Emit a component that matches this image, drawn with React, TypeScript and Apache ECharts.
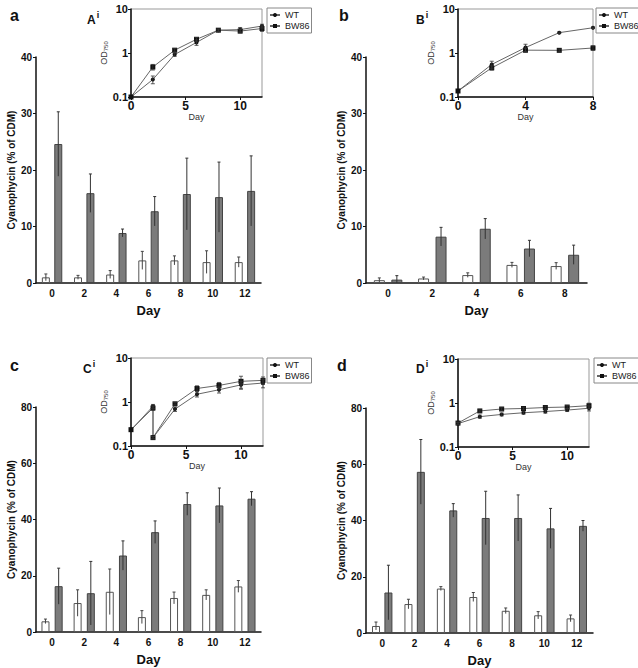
import React, { useEffect, useRef } from "react";
import * as echarts from "echarts";

const FONT = "'Liberation Sans', Arial, Helvetica, sans-serif";

// ---------- Bar data ----------
const daysA = ["0", "2", "4", "6", "8", "10", "12"];
const wtA = [1.0, 1.0, 1.5, 4.0, 4.0, 3.7, 3.7];
const wtAErr = [0.6, 0.35, 0.7, 1.6, 0.8, 2.0, 0.9];
const bwA = [24.6, 15.9, 8.85, 12.7, 15.75, 15.2, 16.3];
const bwAErr = [5.7, 3.4, 0.7, 2.6, 6.35, 6.2, 6.2];

const daysB = ["0", "2", "4", "6", "8"];
const wtB = [0.5, 0.8, 1.4, 3.2, 3.0];
const wtBErr = [0.4, 0.25, 0.4, 0.45, 0.6];
const bwB = [0.6, 8.2, 9.6, 6.1, 5.0];
const bwBErr = [0.7, 1.65, 1.8, 1.45, 1.7];

const daysC = ["0", "2", "4", "6", "8", "10", "12"];
const wtC = [3.8, 10.3, 14.3, 5.3, 12.1, 13.2, 16.2];
const wtCErr = [0.8, 4.7, 8.1, 2.3, 2.1, 1.8, 2.1];
const bwC = [16.3, 13.8, 27.2, 35.5, 45.5, 45.0, 47.4];
const bwCErr = [6.4, 11.3, 5.2, 4.0, 4.0, 6.2, 2.5];

const daysD = ["0", "2", "4", "6", "8", "10", "12"];
const wtD = [2.5, 10.3, 15.8, 12.8, 7.9, 6.3, 5.2];
const wtDErr = [1.4, 1.7, 0.7, 1.6, 1.0, 1.3, 1.2];
const bwD = [14.4, 57.3, 43.6, 40.9, 40.9, 37.2, 38.1];
const bwDErr = [9.7, 11.5, 2.4, 9.5, 8.2, 7.1, 1.9];

// ---------- Inset (OD750) data ----------
const odDaysA = [0, 2, 4, 6, 8, 10, 12];
const odWtA = [0.1, 0.25, 0.92, 1.74, 3.3, 3.4, 4.1];
const odWtAErr = [0, 0.05, 0.08, 0.25, 0.2, 0.4, 0.4];
const odBwA = [0.1, 0.48, 1.16, 2.05, 3.3, 3.15, 3.6];
const odBwAErr = [0, 0.07, 0.1, 0.2, 0.2, 0.3, 0.5];

const odDaysB = [0, 2, 4, 6, 8];
const odWtB = [0.137, 0.55, 1.33, 2.9, 3.75];
const odWtBErr = [0, 0.1, 0.25, 0.1, 0.15];
const odBwB = [0.137, 0.46, 1.16, 1.15, 1.3];
const odBwBErr = [0, 0.05, 0.12, 0.08, 0.15];

const odDaysC = [0, 2, 2, 4, 6, 8, 10, 12];
const odWtC = [0.23, 0.8, 0.155, 0.69, 1.5, 1.9, 2.45, 2.7];
const odWtCErr = [0, 0.08, 0.01, 0.08, 0.2, 0.3, 0.5, 0.6];
const odBwC = [0.235, 0.73, 0.155, 0.91, 2.03, 2.38, 2.95, 3.1];
const odBwCErr = [0, 0.08, 0.01, 0.06, 0.3, 0.4, 0.9, 0.6];

const odDaysD = [0, 2, 4, 6, 8, 10, 12];
const odWtD = [0.34, 0.49, 0.55, 0.6, 0.64, 0.69, 0.76];
const odWtDErr = [0.02, 0.04, 0.04, 0.04, 0.05, 0.05, 0.1];
const odBwD = [0.35, 0.66, 0.73, 0.75, 0.79, 0.81, 0.87];
const odBwDErr = [0.02, 0.04, 0.05, 0.05, 0.06, 0.06, 0.12];

// ---------- Layout (styles / positions) ----------
const panels = [
  {
    letter: "a", sup: "A",
    letterPos: [5, 2], supPos: [82, 5],
    barGrid: { left: 36, top: 57, width: 225, height: 226 },
    insGrid: { left: 131, top: 9, width: 131, height: 88 },
    legendPos: [267, 8],
    yMax: 40, yInt: 10, xMax: 12, xInt: 5, barW: 8, gap: 0.55,
    days: daysA, wt: wtA, wtE: wtAErr, bw: bwA, bwE: bwAErr,
    odDays: odDaysA, odWt: odWtA, odWtE: odWtAErr, odBw: odBwA, odBwE: odBwAErr,
  },
  {
    letter: "b", sup: "B",
    letterPos: [334, 2], supPos: [411, 5],
    barGrid: { left: 366, top: 57, width: 221, height: 226 },
    insGrid: { left: 458, top: 9, width: 135, height: 88 },
    legendPos: [596, 8],
    yMax: 40, yInt: 10, xMax: 8, xInt: 4, barW: 11, gap: 0.59,
    days: daysB, wt: wtB, wtE: wtBErr, bw: bwB, bwE: bwBErr,
    odDays: odDaysB, odWt: odWtB, odWtE: odWtBErr, odBw: odBwB, odBwE: odBwBErr,
  },
  {
    letter: "c", sup: "C",
    letterPos: [5, 352], supPos: [78, 354],
    barGrid: { left: 36, top: 407, width: 225, height: 225 },
    insGrid: { left: 131, top: 358, width: 132, height: 88 },
    legendPos: [267, 358],
    yMax: 80, yInt: 20, xMax: 12, xInt: 5, barW: 8, gap: 0.65,
    days: daysC, wt: wtC, wtE: wtCErr, bw: bwC, bwE: bwCErr,
    odDays: odDaysC, odWt: odWtC, odWtE: odWtCErr, odBw: odBwC, odBwE: odBwCErr,
  },
  {
    letter: "d", sup: "D",
    letterPos: [332, 352], supPos: [411, 354],
    barGrid: { left: 366, top: 408, width: 227, height: 225 },
    insGrid: { left: 458, top: 359, width: 131, height: 88 },
    legendPos: [594, 358],
    yMax: 80, yInt: 20, xMax: 12, xInt: 5, barW: 8, gap: 0.55,
    days: daysD, wt: wtD, wtE: wtDErr, bw: bwD, bwE: bwDErr,
    odDays: odDaysD, odWt: odWtD, odWtE: odWtDErr, odBw: odBwD, odBwE: odBwDErr,
  },
];

function barErr(xi: number, yi: number, means: number[], errs: number[], offset: number, color: string) {
  return {
    type: "custom",
    xAxisIndex: xi,
    yAxisIndex: yi,
    z: 5,
    silent: true,
    data: means.map((m, i) => [i, m, errs[i]]),
    encode: { x: 0, y: 1 },
    renderItem: (params: any, api: any) => {
      const i = api.value(0);
      const m = api.value(1);
      const e = api.value(2);
      const top = api.coord([i, m + e]);
      const bot = api.coord([i, Math.max(0, m - e)]);
      const x = top[0] + offset;
      return {
        type: "group",
        children: [
          { type: "line", shape: { x1: x, y1: top[1], x2: x, y2: bot[1] }, style: { stroke: color, lineWidth: 1 } },
          { type: "line", shape: { x1: x - 1.5, y1: top[1], x2: x + 1.5, y2: top[1] }, style: { stroke: color, lineWidth: 1 } },
        ],
      };
    },
  };
}

function odErr(xi: number, yi: number, xs: number[], ys: number[], errs: number[]) {
  return {
    type: "custom",
    xAxisIndex: xi,
    yAxisIndex: yi,
    z: 4,
    silent: true,
    data: xs.map((x, i) => [x, ys[i], errs[i]]),
    encode: { x: 0, y: 1 },
    renderItem: (params: any, api: any) => {
      const x = api.value(0);
      const y = api.value(1);
      const e = api.value(2);
      if (!e) return { type: "group", children: [] };
      const top = api.coord([x, y + e]);
      const bot = api.coord([x, Math.max(0.101, y - e)]);
      const c = "#333";
      return {
        type: "group",
        children: [
          { type: "line", shape: { x1: top[0], y1: top[1], x2: top[0], y2: bot[1] }, style: { stroke: c, lineWidth: 0.8 } },
          { type: "line", shape: { x1: top[0] - 2, y1: top[1], x2: top[0] + 2, y2: top[1] }, style: { stroke: c, lineWidth: 0.8 } },
          { type: "line", shape: { x1: top[0] - 2, y1: bot[1], x2: top[0] + 2, y2: bot[1] }, style: { stroke: c, lineWidth: 0.8 } },
        ],
      };
    },
  };
}

function buildOption() {
  const grid: any[] = [];
  const xAxis: any[] = [];
  const yAxis: any[] = [];
  const lineSeries: any[] = [];
  const otherSeries: any[] = [];
  const legend: any[] = [];
  const title: any[] = [];

  panels.forEach((p) => {
    const bi = grid.length;
    grid.push({ ...p.barGrid });
    const ii = grid.length;
    grid.push({ ...p.insGrid, show: true, borderColor: "#999", borderWidth: 1, backgroundColor: "transparent" });

    // bar axes
    xAxis.push({
      type: "category", gridIndex: bi, data: p.days,
      axisLine: { lineStyle: { color: "#111", width: 1.5 } },
      axisTick: { alignWithLabel: true, length: 3, lineStyle: { color: "#111" } },
      axisLabel: { color: "#111", fontSize: 10, fontWeight: "bold", fontFamily: FONT, margin: 5 },
      name: "Day", nameLocation: "middle", nameGap: 21,
      nameTextStyle: { color: "#111", fontSize: 13, fontWeight: "bold", fontFamily: FONT },
    });
    yAxis.push({
      type: "value", gridIndex: bi, min: 0, max: p.yMax, interval: p.yInt,
      axisLine: { show: true, lineStyle: { color: "#111", width: 1.5 } },
      axisTick: { show: true, length: 3, lineStyle: { color: "#111" } },
      splitLine: { show: false },
      axisLabel: { color: "#111", fontSize: 10, fontWeight: "bold", fontFamily: FONT, margin: 4 },
      name: "Cyanophycin (% of CDM)", nameLocation: "middle", nameGap: 20, nameRotate: 90,
      nameTextStyle: { color: "#111", fontSize: 10, fontWeight: "bold", fontFamily: FONT },
    });
    // inset axes
    xAxis.push({
      type: "value", gridIndex: ii, min: 0, max: p.xMax, interval: p.xInt,
      axisLine: { lineStyle: { color: "#111", width: 1.5 } },
      axisTick: { length: 3, lineStyle: { color: "#111" } },
      splitLine: { show: false },
      axisLabel: { color: "#111", fontSize: 12, fontWeight: "bold", fontFamily: FONT, margin: 3, showMaxLabel: p.xMax % p.xInt === 0 },
      name: "Day", nameLocation: "middle", nameGap: 15,
      nameTextStyle: { color: "#333", fontSize: 9, fontFamily: FONT },
    });
    yAxis.push({
      type: "log", logBase: 10, gridIndex: ii, min: 0.1, max: 10,
      axisLine: { show: true, lineStyle: { color: "#111", width: 1.5 } },
      axisTick: { show: true, length: 3, lineStyle: { color: "#111" } },
      splitLine: { show: false },
      axisLabel: {
        color: "#111", fontSize: 11, fontWeight: "bold", fontFamily: FONT, margin: 3,
        formatter: (v: number) => (v >= 1 ? String(Math.round(v)) : String(Math.round(v * 10) / 10)),
      },
      name: "{t|OD}{s|750}", nameLocation: "middle", nameGap: 20, nameRotate: 90,
      nameTextStyle: {
        color: "#333", fontFamily: FONT,
        rich: {
          t: { fontSize: 9, fontFamily: FONT, color: "#333", lineHeight: 12, verticalAlign: "bottom" },
          s: { fontSize: 6, fontFamily: FONT, color: "#333", lineHeight: 8, verticalAlign: "bottom" },
        },
      },
    });

    const bxi = xAxis.length - 2;
    const byi = yAxis.length - 2;
    const ixi = xAxis.length - 1;
    const iyi = yAxis.length - 1;

    lineSeries.push({
      type: "line", name: "WT", xAxisIndex: ixi, yAxisIndex: iyi,
      data: p.odDays.map((d, i) => [d, p.odWt[i]]),
      symbol: "circle", symbolSize: 4, showAllSymbol: true,
      lineStyle: { color: "#666", width: 1 }, itemStyle: { color: "#111" }, z: 3,
    });
    lineSeries.push({
      type: "line", name: "BW86", xAxisIndex: ixi, yAxisIndex: iyi,
      data: p.odDays.map((d, i) => [d, p.odBw[i]]),
      symbol: "rect", symbolSize: 5, showAllSymbol: true,
      lineStyle: { color: "#666", width: 1 }, itemStyle: { color: "#111" }, z: 3,
    });
    otherSeries.push(odErr(ixi, iyi, p.odDays, p.odWt, p.odWtE));
    otherSeries.push(odErr(ixi, iyi, p.odDays, p.odBw, p.odBwE));

    otherSeries.push({
      type: "bar", name: "WT bars", xAxisIndex: bxi, yAxisIndex: byi, data: p.wt,
      barWidth: p.barW, barGap: `${Math.round(p.gap * 100)}%`,
      itemStyle: { color: "#ffffff", borderColor: "#555", borderWidth: 1 },
    });
    otherSeries.push({
      type: "bar", name: "BW86 bars", xAxisIndex: bxi, yAxisIndex: byi, data: p.bw,
      barWidth: p.barW, barGap: `${Math.round(p.gap * 100)}%`,
      itemStyle: { color: "#7b7b7b", borderColor: "#444", borderWidth: 1 },
    });
    const off = (p.barW * (1 + p.gap)) / 2;
    otherSeries.push(barErr(bxi, byi, p.wt, p.wtE, -off, "#444"));
    otherSeries.push(barErr(bxi, byi, p.bw, p.bwE, off, "#333"));

    legend.push({
      data: ["WT", "BW86"], left: p.legendPos[0], top: p.legendPos[1], orient: "vertical",
      itemWidth: 10, itemHeight: 5, itemGap: 1, itemTextGap: 3, padding: [2, 2, 2, 2],
      borderColor: "#888", borderWidth: 1, selectedMode: false,
      textStyle: { fontSize: 9, fontFamily: FONT, color: "#222", lineHeight: 10 },
    });

    title.push({
      text: p.letter, left: p.letterPos[0], top: p.letterPos[1],
      textStyle: { fontSize: 16, fontWeight: "bold", fontFamily: FONT, color: "#111" },
    });
    title.push({
      text: `{m|${p.sup}}{s|i}`, left: p.supPos[0], top: p.supPos[1],
      textStyle: {
        rich: {
          m: { fontSize: 12, fontWeight: "bold", fontFamily: FONT, color: "#111", lineHeight: 16, verticalAlign: "bottom" },
          s: { fontSize: 9, fontWeight: "bold", fontFamily: FONT, color: "#111", lineHeight: 10, verticalAlign: "top", padding: [0, 0, 0, 1] },
        },
      },
    });
  });

  return {
    animation: false,
    backgroundColor: "#ffffff",
    textStyle: { fontFamily: FONT },
    title, legend, grid, xAxis, yAxis,
    series: [...lineSeries, ...otherSeries],
  };
}

export default function App() {
  const ref = useRef<HTMLDivElement>(null);
  useEffect(() => {
    document.body.style.margin = "0";
    if (!ref.current) return;
    const chart = echarts.init(ref.current, undefined, { renderer: "svg" });
    chart.setOption(buildOption() as any);
    return () => chart.dispose();
  }, []);
  return <div ref={ref} style={{ width: 638, height: 668 }} />;
}
